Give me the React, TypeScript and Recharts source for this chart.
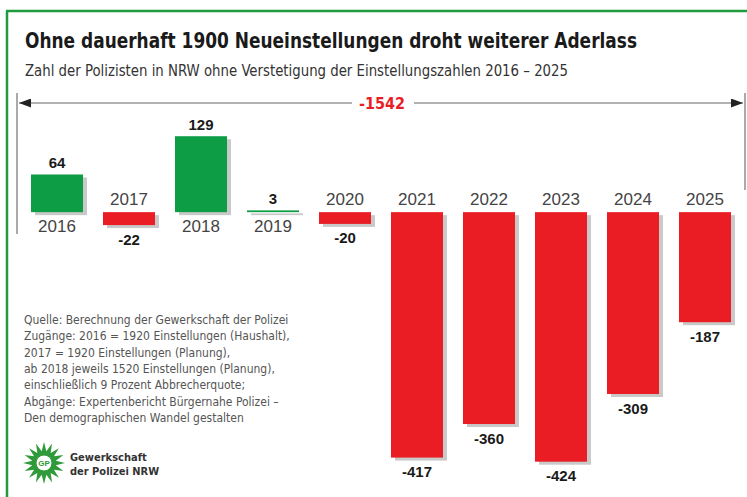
import { BarChart, Bar, XAxis, YAxis, LabelList } from "recharts";

const years = ["2016", "2017", "2018", "2019", "2020", "2021", "2022", "2023", "2024", "2025"];
const changes = [64, -22, 129, 3, -20, -417, -360, -424, -309, -187];
const totalChange = -1542;

const sourceLines = [
  "Quelle: Berechnung der Gewerkschaft der Polizei",
  "Zugänge: 2016 = 1920 Einstellungen (Haushalt),",
  "2017 = 1920 Einstellungen (Planung),",
  "ab 2018 jeweils 1520 Einstellungen (Planung),",
  "einschließlich 9 Prozent Abbrecherquote;",
  "Abgänge: Expertenbericht Bürgernahe Polizei –",
  "Den demographischen Wandel gestalten",
];

const data = years.map((year, i) => ({ year, change: changes[i] }));

const GREEN = "#0d9e45";
const RED = "#ea1d25";
const NARROW = "'Liberation Sans Narrow', 'DejaVu Sans Condensed', sans-serif";
const SANS = "'Liberation Sans', Arial, sans-serif";
const ZERO_Y = 212;

const ShadowBar = (props: any) => {
  const { x, y, width, height, index } = props;
  const top = Math.min(y, y + height);
  const h = Math.max(Math.abs(height), 1.5);
  const fill = changes[index] >= 0 ? GREEN : RED;
  return (
    <g>
      <rect x={x + 4} y={top + 3} width={width} height={h} fill="#c9c9c9" />
      <rect x={x} y={top} width={width} height={h} fill={fill} />
    </g>
  );
};

const ValueLabel = (props: any) => {
  const { x, y, width, height, index } = props;
  const v = changes[index];
  const top = Math.min(y, y + height);
  const bottom = Math.max(y, y + height);
  const ty = v >= 0 ? top - 12 : bottom + 14;
  return (
    <text x={x + width / 2} y={ty} textAnchor="middle" dominantBaseline="central"
      fontFamily={SANS} fontWeight="bold" fontSize={15} fill="#1a1a1a">
      {v}
    </text>
  );
};

const YearLabel = (props: any) => {
  const { x, width, index } = props;
  const v = changes[index];
  const ty = v >= 0 ? ZERO_Y + 14 : ZERO_Y - 13;
  return (
    <text x={x + width / 2} y={ty} textAnchor="middle" dominantBaseline="central"
      fontFamily={SANS} fontSize={17} fill="#444">
      {years[index]}
    </text>
  );
};

const Logo = () => {
  const cx = 44, cy = 463;
  const pts: string[] = [];
  for (let i = 0; i < 32; i++) {
    const r = i % 2 === 0 ? 21 : 12;
    const a = (Math.PI * 2 * i) / 32;
    pts.push(`${cx + r * Math.cos(a)},${cy + r * Math.sin(a)}`);
  }
  return (
    <g>
      <polygon points={pts.join(" ")} fill="#2f9a3a" />
      <circle cx={cx} cy={cy} r={8} fill="#fff" stroke="#2f9a3a" strokeWidth={1} />
      <text x={cx} y={cy + 3} textAnchor="middle" fontFamily={SANS} fontWeight="bold" fontSize={8} fill="#2f9a3a">GP</text>
      <text x={70} y={461} fontFamily={NARROW} fontWeight="bold" fontSize={11} fill="#333">Gewerkschaft</text>
      <text x={70} y={475} fontFamily={NARROW} fontWeight="bold" fontSize={11} fill="#333">der Polizei NRW</text>
    </g>
  );
};

export default function App() {
  return (
    <div style={{ position: "absolute", left: 0, top: 0, width: 747, height: 497, background: "#fff" }}>
      <BarChart width={747} height={497} data={data}
        margin={{ top: 65, right: 6, bottom: 20, left: 21 }}>
        <XAxis dataKey="year" hide />
        <YAxis hide domain={[-450, 250]} />
        <Bar dataKey="change" barSize={52} shape={ShadowBar} isAnimationActive={false}>
          <LabelList dataKey="change" content={ValueLabel} />
          <LabelList dataKey="year" content={YearLabel} />
        </Bar>
      </BarChart>
      <svg width={747} height={497} style={{ position: "absolute", left: 0, top: 0, pointerEvents: "none" }}>
        <defs>
          <marker id="ah" markerWidth="8" markerHeight="6" refX="8" refY="3" orient="auto-start-reverse">
            <path d="M0,0 L8,3 L0,6 Z" fill="#222" />
          </marker>
        </defs>
        <line x1={7} y1={11} x2={7} y2={497} stroke="#1f9a3f" strokeWidth={2.5} />
        <line x1={6} y1={11} x2={747} y2={11} stroke="#1f9a3f" strokeWidth={2.5} />
        <text x={25} y={48} fontFamily={NARROW} fontWeight="bold" fontSize={22} fill="#1a1a1a"
          textLength={612} lengthAdjust="spacingAndGlyphs">
          Ohne dauerhaft 1900 Neueinstellungen droht weiterer Aderlass
        </text>
        <text x={25} y={76} fontFamily={NARROW} fontSize={15} fill="#333"
          textLength={543} lengthAdjust="spacingAndGlyphs">
          Zahl der Polizisten in NRW ohne Verstetigung der Einstellungszahlen 2016 – 2025
        </text>
        <line x1={17} y1={93} x2={17} y2={234} stroke="#aaa" strokeWidth={2} />
        <line x1={745} y1={93} x2={745} y2={190} stroke="#aaa" strokeWidth={2} />
        <line x1={19} y1={103} x2={743} y2={103} stroke="#999" strokeWidth={1.5}
          markerStart="url(#ah)" markerEnd="url(#ah)" />
        <rect x={352} y={94} width={62} height={18} fill="#fff" />
        <text x={382} y={103} textAnchor="middle" dominantBaseline="central" fontFamily={NARROW}
          fontWeight="bold" fontSize={16} fill={RED}>
          {totalChange}
        </text>
        {sourceLines.map((line, i) => (
          <text key={i} x={24} y={324 + i * 16.3} fontFamily={NARROW} fontSize={12} fill="#555">
            {line}
          </text>
        ))}
        <Logo />
      </svg>
    </div>
  );
}
